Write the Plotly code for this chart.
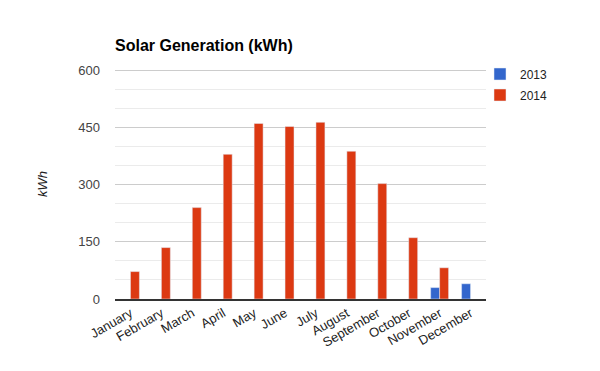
import plotly.graph_objects as go

months = ["January", "February", "March", "April", "May", "June", "July",
          "August", "September", "October", "November", "December"]
gen_2013 = [None, None, None, None, None, None, None, None, None, None, 30, 40]
gen_2014 = [72, 135, 240, 380, 461, 453, 464, 388, 303, 161, 82, None]
y_ticks = [0, 150, 300, 450, 600]

W, H = 600, 371
YMAX = 604
L, R, B = 115, 114, 72
ph = 228 * YMAX / 600
T = H - B - ph
pw = W - L - R

fig = go.Figure()
fig.add_trace(go.Bar(name="2013", x=months, y=gen_2013, marker_color="#3366cc",
                     legendgroup="a"))
fig.add_trace(go.Bar(name="2014", x=months, y=gen_2014, marker_color="#dc3912",
                     legendgroup="b"))

font_family = "Liberation Sans, Arial, sans-serif"
fig.update_layout(
    width=W, height=H,
    margin=dict(l=L, r=R, t=T, b=B, pad=0, autoexpand=False),
    paper_bgcolor="white", plot_bgcolor="white",
    barmode="group", bargap=0.42, bargroupgap=0,
    font=dict(family=font_family, size=13, color="#444444"),
    title=dict(text="<b>Solar Generation (kWh)</b>", x=L / W, xanchor="left",
               xref="container", y=1 - 45 / H, yanchor="middle", yref="container",
               font=dict(family=font_family, size=16, color="#000000")),
    legend=dict(x=(480 - L) / pw, xanchor="left", y=1 + (T - 60) / ph, yanchor="top",
                font=dict(family=font_family, size=12, color="#222222"),
                itemwidth=30, traceorder="grouped", tracegroupgap=2,
                bgcolor="rgba(0,0,0,0)"),
    showlegend=True,
)
fig.update_xaxes(
    tickangle=-30, showgrid=False, showline=True, linecolor="#333333", linewidth=1.5,
    ticks="", tickfont=dict(size=13, color="#222222"), automargin=False,
)
fig.update_yaxes(
    range=[0, YMAX], tickmode="array", tickvals=y_ticks,
    ticktext=[str(v) for v in y_ticks],
    showgrid=True, gridcolor="#cccccc", gridwidth=1, zeroline=False,
    tickfont=dict(size=13, color="#444444"), ticks="", ticklabelstandoff=14,
    minor=dict(tickmode="linear", dtick=50, tick0=0, showgrid=True,
               gridcolor="#ebebeb", gridwidth=1),
    automargin=False,
)
fig.add_annotation(text="<i>kWh</i>", xref="paper", yref="paper",
                   x=(42 - L) / pw, y=0.5, textangle=-90, showarrow=False,
                   xanchor="center", yanchor="middle",
                   font=dict(family=font_family, size=13, color="#222222"))

fig.write_html("out.html", config={"displayModeBar": False},
               post_script="document.body.style.margin='0';")
